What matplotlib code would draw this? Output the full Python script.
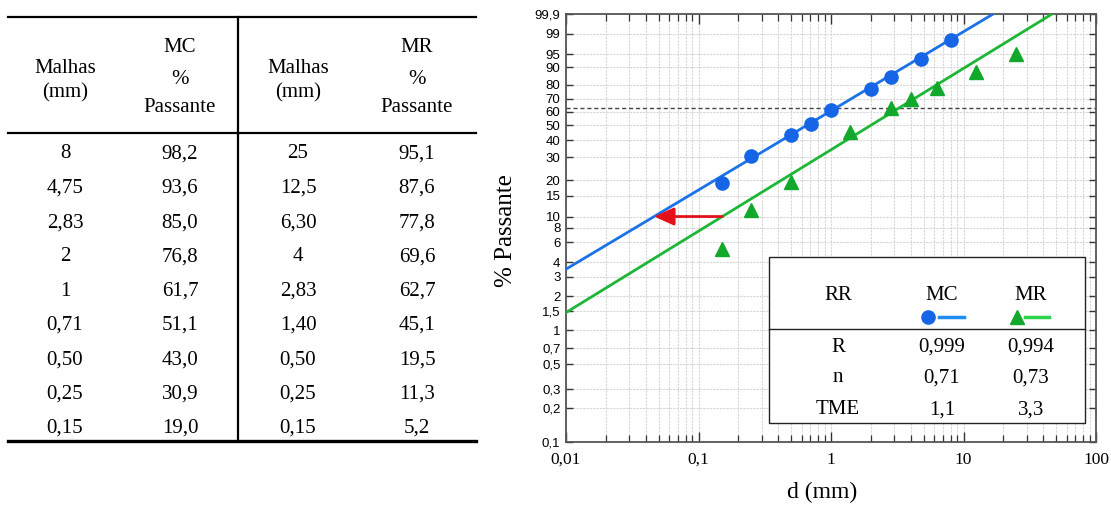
import numpy as np
import matplotlib
matplotlib.use("Agg")
import matplotlib.pyplot as plt
from matplotlib.lines import Line2D
from matplotlib.patches import Rectangle
from matplotlib.ticker import FixedLocator, NullLocator, NullFormatter, FixedFormatter

SERIF = ["Liberation Serif", "DejaVu Serif"]
NARROW = ["Liberation Sans Narrow", "Liberation Sans", "DejaVu Sans"]
plt.rcParams["font.family"] = SERIF

# Sieve analysis (sizes in mm, cumulative % passing)
mc_sieve = ["8", "4,75", "2,83", "2", "1", "0,71", "0,50", "0,25", "0,15"]
mc_pass = ["98,2", "93,6", "85,0", "76,8", "61,7", "51,1", "43,0", "30,9", "19,0"]
mr_sieve = ["25", "12,5", "6,30", "4", "2,83", "1,40", "0,50", "0,25", "0,15"]
mr_pass = ["95,1", "87,6", "77,8", "69,6", "62,7", "45,1", "19,5", "11,3", "5,2"]

# Rosin-Rammler fit parameters: MC, MR
rr_series = ["MC", "MR"]
rr_r = ["0,999", "0,994"]
rr_n = [0.71, 0.73]
rr_tme = [1.1, 3.3]

y_ticks = [0.1, 0.2, 0.3, 0.5, 0.7, 1, 1.5, 2, 3, 4, 6, 8, 10, 15, 20, 30,
           40, 50, 60, 70, 80, 90, 95, 99, 99.9]
x_ticks = [0.01, 0.1, 1, 10, 100]
ref_pass = 10.0  # level of the red arrow

BLUE = "#1565e6"
BLUE_LINE = "#1b72e8"
GREEN = "#12a82c"
GREEN_LINE = "#1db636"
RED = "#e3121a"


def num(s):
    return float(s.replace(",", "."))


def br(v):
    return ("%g" % v).replace(".", ",")


def rr_fwd(p):
    p = np.clip(np.asarray(p, dtype=float), 1e-9, 100 - 1e-9)
    return np.log(-np.log(1 - p / 100.0))


def rr_inv(y):
    return 100.0 * (1 - np.exp(-np.exp(np.asarray(y, dtype=float))))


def rr_curve(d, tme, n):
    return 100.0 * (1 - np.exp(-(np.asarray(d) / tme) ** n))


def rr_size(p, tme, n):
    return tme * (-np.log(1 - p / 100.0)) ** (1.0 / n)


W, H = 1111, 507
fig = plt.figure(figsize=(W / 100, H / 100), dpi=100)


def fx(x):
    return x / W


def fy(y):
    return 1 - y / H


# ---------------- left: data table ----------------
def hline(x0, x1, y, lw):
    fig.add_artist(Line2D([fx(x0), fx(x1)], [fy(y), fy(y)], color="black",
                          lw=lw, transform=fig.transFigure))


hline(8, 476, 17, 1.6)
hline(8, 476, 133, 1.6)
hline(8, 476, 441, 2.4)
fig.add_artist(Line2D([fx(238), fx(238)], [fy(17), fy(441)], color="black",
                      lw=1.6, transform=fig.transFigure))

col_x = [65, 180, 298, 417]
tfs = 15
for cx in (col_x[0], col_x[2]):
    fig.text(fx(cx), fy(73), "Malhas", ha="center", va="baseline", fontsize=tfs)
    fig.text(fx(cx), fy(97), "(mm)", ha="center", va="baseline", fontsize=tfs)
for cx, name in ((col_x[1], "MC"), (col_x[3], "MR")):
    fig.text(fx(cx), fy(52), name, ha="center", va="baseline", fontsize=tfs)
    fig.text(fx(cx), fy(84), "%", ha="center", va="baseline", fontsize=tfs)
    fig.text(fx(cx), fy(112), "Passante", ha="center", va="baseline", fontsize=tfs)

for i in range(len(mc_sieve)):
    yb = 158.5 + i * 34.3
    for cx, col in zip(col_x, (mc_sieve, mc_pass, mr_sieve, mr_pass)):
        fig.text(fx(cx), fy(yb), col[i], ha="center", va="baseline", fontsize=tfs)

# ---------------- right: Rosin-Rammler plot ----------------
ax = fig.add_axes([fx(566), fy(442), fx(1096) - fx(566), fy(14) - fy(442)])
ax.set_xscale("log")
ax.set_yscale("function", functions=(rr_fwd, rr_inv))
ax.set_xlim(0.01, 100)
ax.set_ylim(0.1, 99.9)

ax.xaxis.set_major_locator(FixedLocator(x_ticks))
ax.xaxis.set_major_formatter(FixedFormatter([br(v) for v in x_ticks]))
minor_x = [m * 10.0 ** e for e in range(-2, 2) for m in range(2, 10)]
ax.xaxis.set_minor_locator(FixedLocator(minor_x))
ax.xaxis.set_minor_formatter(NullFormatter())
ax.yaxis.set_major_locator(FixedLocator(y_ticks))
ax.yaxis.set_major_formatter(FixedFormatter([br(v) for v in y_ticks]))
ax.yaxis.set_minor_locator(NullLocator())

grid_kw = dict(color="#d6d6d6", lw=0.8, linestyle=(0, (2, 1)))
ax.grid(which="major", axis="both", **grid_kw)
ax.grid(which="minor", axis="x", **grid_kw)
ax.set_axisbelow(True)

for sp in ax.spines.values():
    sp.set_color("#555555")
    sp.set_linewidth(1.3)
ax.tick_params(axis="x", which="major", direction="in", length=7, width=1.0,
               top=True, bottom=True, color="#333333", pad=7, labelsize=12.5)
ax.tick_params(axis="x", which="minor", direction="in", length=5, width=0.9,
               top=True, bottom=True, color="#333333")
ax.tick_params(axis="y", which="major", direction="in", length=5, width=1.0,
               left=True, right=True, color="#333333", pad=4, labelsize=9.5)
for lab in ax.get_yticklabels():
    lab.set_family(NARROW)

# 63.2 % reference level
ax.axhline(100 * (1 - np.exp(-1)), color="#444444", lw=1.0,
           linestyle=(0, (3, 2)), zorder=2)

d_line = np.logspace(-2, 2, 500)
ax.plot(d_line, rr_curve(d_line, rr_tme[0], rr_n[0]), color=BLUE_LINE, lw=2.0, zorder=3)
ax.plot(d_line, rr_curve(d_line, rr_tme[1], rr_n[1]), color=GREEN_LINE, lw=2.0, zorder=3)

ax.plot([num(s) for s in mc_sieve], [num(s) for s in mc_pass], "o", color=BLUE,
        ms=9.5, mec=BLUE, zorder=4)
ax.plot([num(s) for s in mr_sieve], [num(s) for s in mr_pass], "^", color=GREEN,
        ms=10, mec=GREEN, zorder=4)

# arrow from the MR fit to the MC fit at the reference passing level
d_from = rr_size(ref_pass, rr_tme[1], rr_n[1])
d_to = rr_size(ref_pass, rr_tme[0], rr_n[0])
ax.annotate("", xy=(d_to, ref_pass), xytext=(d_from, ref_pass),
            arrowprops=dict(arrowstyle="-|>,head_length=1.0,head_width=0.45",
                            mutation_scale=12, color=RED, lw=2,
                            shrinkA=0, shrinkB=0), zorder=5)

fig.text(fx(506), fy(231), "% Passante", rotation=90, ha="center", va="center",
         fontsize=18)
fig.text(fx(822), fy(492), "d (mm)", ha="center", va="center", fontsize=17)

# ---------------- fit summary box ----------------
box = Rectangle((fx(769), fy(423)), fx(1085) - fx(769), fy(257) - fy(423),
                transform=fig.transFigure, facecolor="white", edgecolor="#222222",
                lw=1.0, zorder=10)
fig.add_artist(box)
fig.add_artist(Line2D([fx(769), fx(1085)], [fy(329), fy(329)], color="#222222",
                      lw=1.0, transform=fig.transFigure, zorder=11))

bfs = 15
bx = [838, 942, 1031]
fig.text(fx(bx[0]), fy(295), "RR", ha="center", va="center", fontsize=bfs, zorder=12)
for cx, name in zip(bx[1:], rr_series):
    fig.text(fx(cx), fy(295), name, ha="center", va="center", fontsize=bfs, zorder=12)

fig.add_artist(Line2D([fx(928)], [fy(317)], marker="o", ms=9.5, color=BLUE,
                      transform=fig.transFigure, zorder=12))
fig.add_artist(Line2D([fx(939), fx(964)], [fy(317), fy(317)], color="#1e8ef2",
                      lw=2.5, transform=fig.transFigure, zorder=12))
fig.add_artist(Line2D([fx(1017)], [fy(317)], marker="^", ms=9.5, color=GREEN,
                      transform=fig.transFigure, zorder=12))
fig.add_artist(Line2D([fx(1025), fx(1049)], [fy(317), fy(317)], color="#2bd24a",
                      lw=2.5, transform=fig.transFigure, zorder=12))

rows = [("R", rr_r), ("n", [br(v) for v in rr_n]), ("TME", [br(v) for v in rr_tme])]
for (lab, vals), yc in zip(rows, (347, 378, 410)):
    fig.text(fx(bx[0]), fy(yc), lab, ha="center", va="center", fontsize=bfs, zorder=12)
    for cx, v in zip(bx[1:], vals):
        fig.text(fx(cx), fy(yc), v, ha="center", va="center", fontsize=bfs, zorder=12)

fig.savefig("out.png", dpi=100)
